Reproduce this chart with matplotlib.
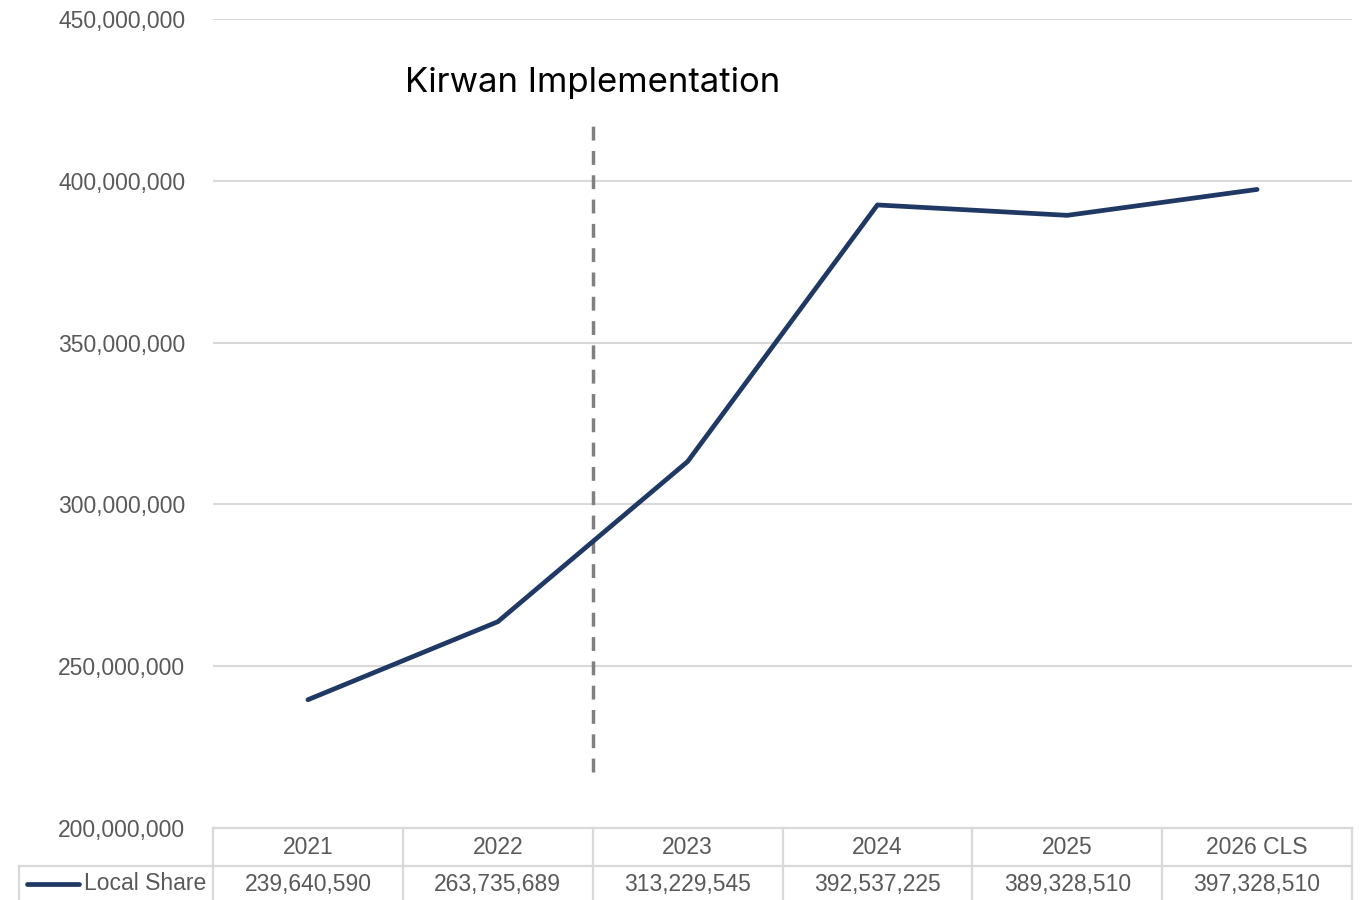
import matplotlib
matplotlib.use("Agg")
import matplotlib.pyplot as plt
from matplotlib.ticker import FuncFormatter
from matplotlib.transforms import blended_transform_factory
from matplotlib.lines import Line2D

categories = ["2021", "2022", "2023", "2024", "2025", "2026 CLS"]
local_share = [239640590, 263735689, 313229545, 392537225, 389328510, 397328510]
series_name = "Local Share"
yticks = [200000000, 250000000, 300000000, 350000000, 400000000, 450000000]
annotation = "Kirwan Implementation"

W, H = 1363, 900
fig = plt.figure(figsize=(W / 100, H / 100), dpi=100)
ax = fig.add_axes([213 / W, 1 - 828 / H, (1352 - 213) / W, (828 - 19) / H])

navy = "#1F3864"
grid_c = "#D9D9D9"
txt_c = "#595959"
font = "Liberation Sans"
fs = 16.5

xs = [i + 0.5 for i in range(len(categories))]
ax.plot(xs, local_share, color=navy, lw=3.4, solid_capstyle="round",
        solid_joinstyle="round", zorder=3)

ax.set_xlim(0, len(categories))
ax.set_ylim(yticks[0], yticks[-1])
ax.set_yticks(yticks)
ax.yaxis.set_major_formatter(FuncFormatter(lambda v, p: f"{int(v):,}"))
ax.tick_params(axis="y", length=0, pad=20, labelsize=fs, labelcolor=txt_c)
for lab in ax.get_yticklabels():
    lab.set_fontfamily(font)
ax.set_xticks([])
for s in ax.spines.values():
    s.set_visible(False)
for t in yticks[1:]:
    ax.axhline(t, color=grid_c, lw=1.5, zorder=1)

# Kirwan implementation marker
ax.plot([2.0, 2.0], [217300000, 419400000], color="#808080", lw=2.5,
        dashes=(4, 3), zorder=2)
ax.text(2.0, 430200000, annotation, ha="center", va="center", fontsize=25,
        family="Inter", color="black")

# data table below the plot
tr = blended_transform_factory(ax.transData, fig.transFigure)
def fy(py):
    return 1 - py / H

tbl_lw = 1.6
fig.add_artist(Line2D([0, len(categories)], [fy(828), fy(828)], transform=tr,
                      color=grid_c, lw=tbl_lw))
fig.add_artist(Line2D([19 / W, 1352 / W], [fy(866), fy(866)], transform=fig.transFigure,
                      color=grid_c, lw=tbl_lw))
for k in range(len(categories) + 1):
    fig.add_artist(Line2D([k, k], [fy(828), fy(900)], transform=tr,
                          color=grid_c, lw=tbl_lw))
fig.add_artist(Line2D([19 / W, 19 / W], [fy(866), fy(900)], transform=fig.transFigure,
                      color=grid_c, lw=tbl_lw))

for x, c, v in zip(xs, categories, local_share):
    fig.text(x, fy(847), c, transform=tr, ha="center", va="center",
             fontsize=fs, color=txt_c, family=font)
    fig.text(x, fy(884), f"{v:,}", transform=tr, ha="center", va="center",
             fontsize=fs, color=txt_c, family=font)

fig.add_artist(Line2D([27 / W, 79 / W], [fy(884), fy(884)], transform=fig.transFigure,
                      color=navy, lw=3.4, solid_capstyle="round"))
fig.text(84 / W, fy(884), series_name, ha="left", va="center", fontsize=fs,
         color=txt_c, family=font)

fig.savefig("out.png", dpi=100)
